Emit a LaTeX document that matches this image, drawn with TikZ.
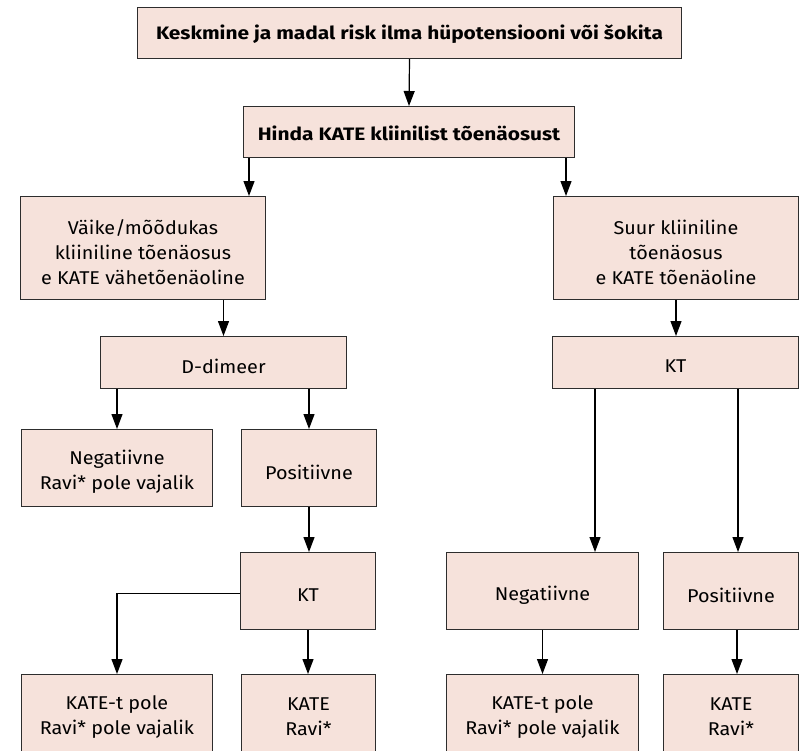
\documentclass[tikz,border=0pt]{standalone}
\usepackage{fontspec}
\setmainfont{Fira Sans}[FakeStretch=1.07]
\newfontfamily\headfont{Fira Sans}[FakeStretch=1.16]
\usetikzlibrary{arrows.meta}
\definecolor{boxfill}{RGB}{246,226,219}
\definecolor{boxline}{RGB}{45,45,45}
\newcommand\flowbox[5]{\node[box, minimum width=#4pt, minimum height=#5pt] (#1) at (#2,#3) {};}
\begin{document}
\begin{tikzpicture}[x=1pt,y=-1pt,
  box/.style={draw=boxline, fill=boxfill, line width=1pt, inner sep=0pt, anchor=north west},
  txt/.style={align=center, font=\fontsize{18.5}{25}\selectfont, text=black, inner sep=0pt},
  boldtxt/.style={align=center, font=\headfont\fontsize{18}{22}\selectfont\bfseries, text=black, inner sep=0pt},
  arr/.style={-{Triangle[length=15pt,width=11pt]}, line width=1.2pt, draw=black}]
\useasboundingbox (0,0) rectangle (799,750);
\clip (0,0) rectangle (799,750);

% boxes
\flowbox{top}{137}{7}{544}{51}
\flowbox{hinda}{243}{106}{331}{51}
\flowbox{left1}{20}{196}{245}{103}
\flowbox{right1}{553}{196}{245}{103}
\flowbox{ddim}{100}{336}{246}{52}
\flowbox{kt1}{552}{336}{246}{52}
\flowbox{neg1}{21}{429}{191}{77}
\flowbox{pos1}{241}{429}{135}{77}
\flowbox{kt2}{240}{552}{135}{77}
\flowbox{neg2}{446}{552}{192}{77}
\flowbox{pos2}{663}{552}{135}{77}
\flowbox{b1}{21}{674}{191}{77}
\flowbox{b2}{241}{674}{134}{77}
\flowbox{b3}{446}{674}{192}{77}
\flowbox{b4}{663}{674}{135}{77}

% texts
\node[boldtxt] (top-t) at ([yshift=-1pt]top.center) {Keskmine ja madal risk ilma hüpotensiooni või šokita};
\node[boldtxt] (hinda-t) at ([yshift=-1pt]hinda.center) {Hinda KATE kliinilist tõenäosust};
\node[txt] (left1-t) at ([yshift=-4pt]left1.center) {Väike/mõõdukas\\kliiniline tõenäosus\\e KATE vähetõenäoline};
\node[txt] (right1-t) at ([yshift=-4pt]right1.center) {Suur kliiniline\\tõenäosus\\e KATE tõenäoline};
\node[txt] (ddim-t) at ([yshift=-4pt]ddim.center) {D-dimeer};
\node[txt] (kt1-t) at ([yshift=-4pt]kt1.center) {KT};
\node[txt] (neg1-t) at ([yshift=-4pt]neg1.center) {Negatiivne\\Ravi* pole vajalik};
\node[txt] (pos1-t) at ([yshift=-4pt]pos1.center) {Positiivne};
\node[txt] (kt2-t) at ([yshift=-4pt]kt2.center) {KT};
\node[txt] (neg2-t) at ([yshift=-4pt]neg2.center) {Negatiivne};
\node[txt] (pos2-t) at ([yshift=-4pt]pos2.center) {Positiivne};
\node[txt] (b1-t) at ([yshift=-4pt]b1.center) {KATE-t pole\\Ravi* pole vajalik};
\node[txt] (b2-t) at ([yshift=-4pt]b2.center) {KATE\\Ravi*};
\node[txt] (b3-t) at ([yshift=-4pt]b3.center) {KATE-t pole\\Ravi* pole vajalik};
\node[txt] (b4-t) at ([yshift=-4pt]b4.center) {KATE\\Ravi*};

% connectors
\draw[arr] (top.south) -- (hinda.north);
\draw[arr] ([xshift=6pt]hinda.south west) -- ([xshift=6pt]hinda.south west |- left1.north);
\draw[arr] ([xshift=-9pt]hinda.south east) -- ([xshift=-9pt]hinda.south east |- right1.north);
\draw[arr] (ddim.north |- left1.south) -- (ddim.north);
\draw[arr] (right1.south) -- (right1.south |- kt1.north);
\draw[arr] (neg1.north |- ddim.south) -- (neg1.north);
\draw[arr] (pos1.north |- ddim.south) -- (pos1.north);
\draw[arr] ([xshift=43pt]kt1.south west) -- ([xshift=43pt]kt1.south west |- neg2.north);
\draw[arr] ([xshift=-61pt]kt1.south east) -- ([xshift=-61pt]kt1.south east |- pos2.north);
\draw[arr] (pos1.south) -- (pos1.south |- kt2.north);
\draw[arr] ([yshift=-2.5pt]kt2.west) -| (b1.north);
\draw[arr] (kt2.south) -- (kt2.south |- b2.north);
\draw[arr] (neg2.south) -- (neg2.south |- b3.north);
\draw[arr] ([xshift=6pt]pos2.south) -- ([xshift=6pt]pos2.south |- b4.north);
\end{tikzpicture}
\end{document}
